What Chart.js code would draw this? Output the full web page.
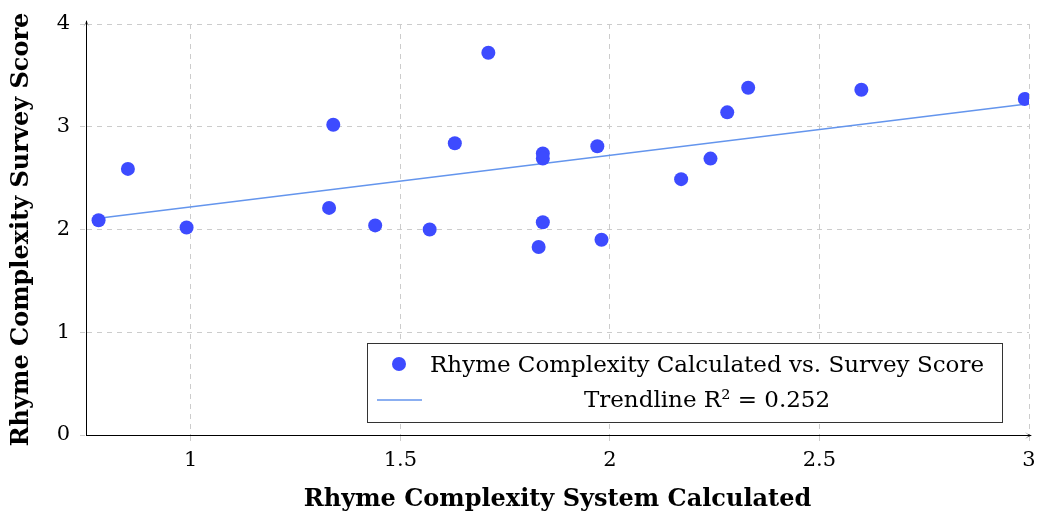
<!DOCTYPE html>
<html>
<head>
<meta charset="utf-8">
<script src="https://cdn.jsdelivr.net/npm/chart.js@4.4.1/dist/chart.umd.min.js"></script>
<style>
  html, body { margin: 0; padding: 0; background: #fff; }
  canvas { display: block; }
</style>
</head>
<body>
<canvas id="chart" width="1038" height="518"></canvas>
<script>
// Rhyme complexity: system-calculated value vs. survey score
const xCalculated = [0.78, 0.85, 0.99, 1.33, 1.34, 1.44, 1.57, 1.63, 1.71, 1.83, 1.84, 1.84, 1.84, 1.97, 1.98, 2.17, 2.24, 2.28, 2.33, 2.60, 2.99];
const ySurvey     = [2.09, 2.59, 2.02, 2.21, 3.02, 2.04, 2.00, 2.84, 3.72, 1.83, 2.74, 2.69, 2.07, 2.81, 1.90, 2.49, 2.69, 3.14, 3.38, 3.36, 3.27];

// Least-squares trendline end points
const trendX = [0.78, 2.99];
const trendY = [2.11, 3.22];

const xTicks = [1, 1.5, 2, 2.5, 3];
const yTicks = [0, 1, 2, 3, 4];

const seriesLabel = 'Rhyme Complexity Calculated vs. Survey Score';
const trendLabel  = 'Trendline R\u00B2 = 0.252';
const xTitle = 'Rhyme Complexity System Calculated';
const yTitle = 'Rhyme Complexity Survey Score';

const SERIF = '"DejaVu Serif", "Liberation Serif", serif';
const POINT_COLOR = '#3d4bff';
const TREND_COLOR = '#6495ed';
const GRID_COLOR = '#cccccc';

// Arrow heads at the ends of both axes
const axisArrows = {
  id: 'axisArrows',
  afterDatasetsDraw(chart) {
    const { ctx, chartArea: a } = chart;
    ctx.save();
    ctx.strokeStyle = '#000';
    ctx.fillStyle = '#000';
    ctx.lineWidth = 1;
    // vertical axis extension + head
    const x = a.left + 0.5;
    ctx.beginPath();
    ctx.moveTo(x, a.top);
    ctx.lineTo(x, a.top - 3);
    ctx.stroke();
    ctx.beginPath();
    ctx.moveTo(x, a.top - 4);
    ctx.quadraticCurveTo(x + 0.5, a.top, x + 3.5, a.top + 3);
    ctx.lineTo(x, a.top - 1);
    ctx.lineTo(x - 3.5, a.top + 3);
    ctx.quadraticCurveTo(x - 0.5, a.top, x, a.top - 4);
    ctx.fill();
    // horizontal axis extension + head
    const y = a.bottom + 0.5;
    ctx.beginPath();
    ctx.moveTo(a.right, y);
    ctx.lineTo(a.right + 2, y);
    ctx.stroke();
    ctx.beginPath();
    ctx.moveTo(a.right + 3, y);
    ctx.quadraticCurveTo(a.right - 1, y + 0.5, a.right - 4, y + 3.5);
    ctx.lineTo(a.right, y);
    ctx.lineTo(a.right - 4, y - 3.5);
    ctx.quadraticCurveTo(a.right - 1, y - 0.5, a.right + 3, y);
    ctx.fill();
    ctx.restore();
  }
};

// Boxed legend in the lower right of the plot area
const boxLegend = {
  id: 'boxLegend',
  afterDraw(chart) {
    const { ctx, chartArea: a } = chart;
    const right = a.right - 27, bottom = a.bottom - 13;
    const w = 635, h = 79;
    const left = right - w, top = bottom - h;
    ctx.save();
    ctx.fillStyle = '#fff';
    ctx.fillRect(left, top, w, h);
    ctx.strokeStyle = '#333';
    ctx.lineWidth = 1;
    ctx.strokeRect(left + 0.5, top + 0.5, w, h);

    const ds = chart.data.datasets;
    // scatter entry
    ctx.fillStyle = ds[0].backgroundColor;
    ctx.beginPath();
    ctx.arc(left + 32, top + 21, 7, 0, Math.PI * 2);
    ctx.fill();
    // line entry
    ctx.strokeStyle = ds[1].borderColor;
    ctx.lineWidth = 1.5;
    ctx.beginPath();
    ctx.moveTo(left + 10, top + 57);
    ctx.lineTo(left + 55, top + 57);
    ctx.stroke();

    ctx.fillStyle = '#000';
    ctx.font = '23px ' + SERIF;
    ctx.textAlign = 'center';
    ctx.textBaseline = 'alphabetic';
    const cx = left + 340;
    ctx.fillText(ds[0].label, cx, top + 29);
    ctx.fillText(ds[1].label, cx, top + 64);
    ctx.restore();
  }
};

const tickFont = { family: SERIF, size: 21 };
const titleFont = { family: SERIF, size: 24, weight: 'bold' };

// keep the plot area flush with the fixed axis boxes
const fixPadding = s => { s.paddingLeft = 0; s.paddingRight = 0; s.paddingTop = 0; s.paddingBottom = 0; };

new Chart(document.getElementById('chart'), {
  data: {
    datasets: [
      {
        type: 'scatter',
        label: seriesLabel,
        data: xCalculated.map((x, i) => ({ x, y: ySurvey[i] })),
        backgroundColor: POINT_COLOR,
        borderWidth: 0,
        pointRadius: 7,
        pointHoverRadius: 7,
        order: 0
      },
      {
        type: 'line',
        label: trendLabel,
        data: trendX.map((x, i) => ({ x, y: trendY[i] })),
        borderColor: TREND_COLOR,
        borderWidth: 1.5,
        pointRadius: 0,
        fill: false,
        order: 1
      }
    ]
  },
  options: {
    responsive: false,
    devicePixelRatio: 1,
    animation: false,
    layout: { padding: { left: 0, right: 9, top: 24, bottom: 0 } },
    plugins: {
      legend: { display: false },
      tooltip: { enabled: false }
    },
    scales: {
      x: {
        type: 'linear',
        position: 'bottom',
        min: 0.75,
        max: 3,
        afterBuildTicks: s => { s.ticks = xTicks.map(v => ({ value: v })); },
        afterFit: s => { s.height = 83; fixPadding(s); },
        grid: { color: GRID_COLOR, tickLength: 6, tickColor: GRID_COLOR, tickBorderDash: [5, 5] },
        border: { display: true, color: '#000', width: 1, dash: [5, 5] },
        ticks: { font: tickFont, color: '#000', padding: 7, maxRotation: 0, callback: v => String(v) },
        title: { display: true, text: xTitle, font: titleFont, color: '#000', padding: { top: 0, bottom: 4 } }
      },
      y: {
        type: 'linear',
        position: 'left',
        min: 0,
        max: 4,
        afterBuildTicks: s => { s.ticks = yTicks.map(v => ({ value: v })); },
        afterFit: s => { s.width = 86; fixPadding(s); },
        grid: { color: GRID_COLOR, tickLength: 6, tickColor: GRID_COLOR, tickBorderDash: [5, 5] },
        border: { display: true, color: '#000', width: 1, dash: [5, 5] },
        ticks: { font: tickFont, color: '#000', padding: 10, callback: v => String(v) },
        title: { display: true, text: yTitle, font: titleFont, color: '#000', padding: { top: 7, bottom: 0 } }
      }
    }
  },
  plugins: [axisArrows, boxLegend]
});
</script>
</body>
</html>
